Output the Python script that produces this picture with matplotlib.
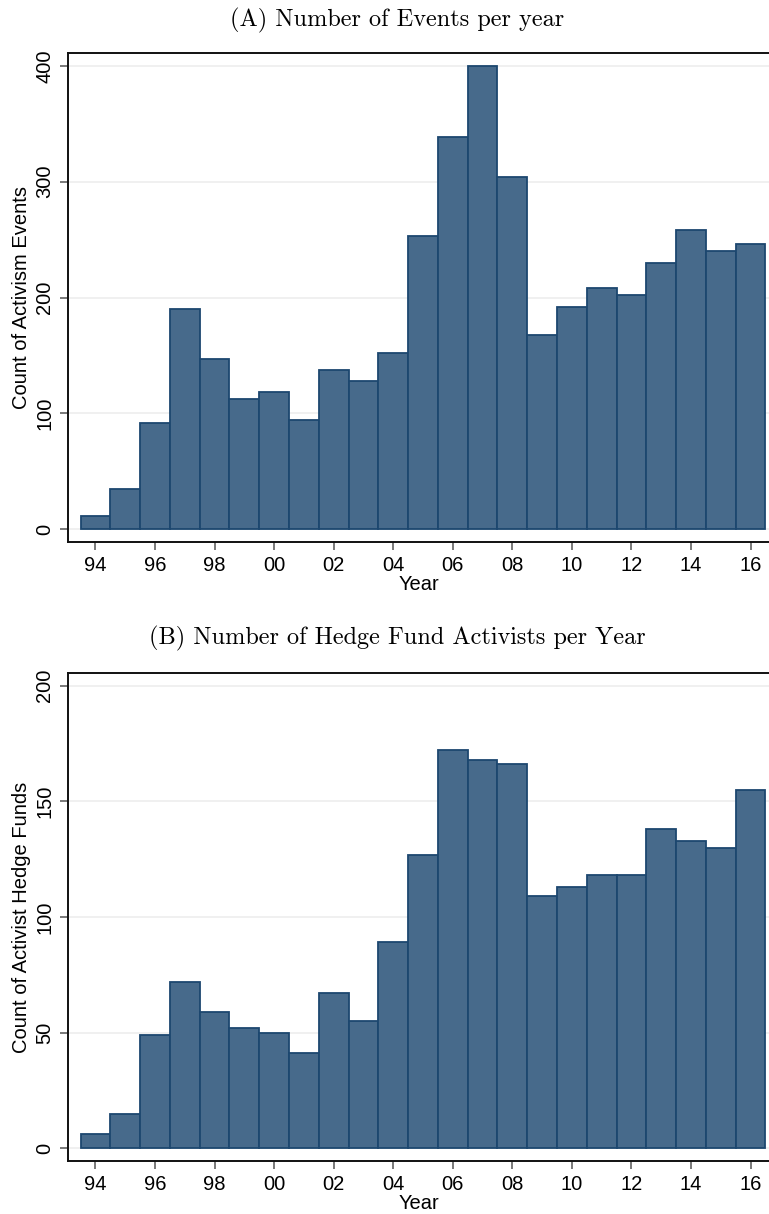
import matplotlib
matplotlib.use("Agg")
import matplotlib.pyplot as plt
import numpy as np

years = np.arange(1994, 2017)
events = [11, 35, 92, 190, 147, 112, 118, 94, 137, 128, 152, 253,
          339, 400, 304, 168, 192, 208, 202, 230, 258, 240, 246]
funds = [6, 15, 49, 72, 59, 52, 50, 41, 67, 55, 89, 127,
         172, 168, 166, 109, 113, 118, 118, 138, 133, 130, 155]

panels = [
    ("(A) Number of Events per year", "Count of Activism Events", events,
     [0, 100, 200, 300, 400], (-11.2, 411.2)),
    ("(B) Number of Hedge Fund Activists per Year", "Count of Activist Hedge Funds", funds,
     [0, 50, 100, 150, 200], (-5.5, 205.5)),
]

FILL = "#476a8b"
EDGE = "#1c476f"

plt.rcParams["font.family"] = ["Liberation Sans", "DejaVu Sans"]

W, H = 769, 1214
fig = plt.figure(figsize=(W / 100, H / 100), dpi=100)

# axes boxes in pixels: left, top, right, bottom
boxes = [(68, 53, 769, 542), (68, 673, 769, 1161)]
title_y = [20, 638]

for (title, ylabel, vals, yticks, ylim), box, ty in zip(panels, boxes, title_y):
    l, t, r, b = box
    ax = fig.add_axes([l / W, 1 - b / H, (r - l) / W, (b - t) / H])
    ax.bar(years, vals, width=1.0, color=FILL, edgecolor=EDGE, linewidth=1.3, zorder=3)
    ax.set_xlim(1993.08, 2016.62)
    ax.set_ylim(*ylim)
    ax.set_yticks(yticks)
    ax.set_yticklabels([str(v) for v in yticks], rotation=90, va="center")
    xt = years[::2]
    ax.set_xticks(xt)
    ax.set_xticklabels([f"{y % 100:02d}" for y in xt])
    ax.grid(axis="y", color="#eeeeee", linewidth=1.2, zorder=0)
    ax.tick_params(axis="both", direction="out", length=6, width=1.1, color="#555555",
                   labelsize=14.5, pad=4)
    for side in ("left", "bottom", "top"):
        ax.spines[side].set_linewidth(1.4)
        ax.spines[side].set_color("#111111")
    ax.spines["right"].set_visible(False)
    ax.set_ylabel(ylabel, fontsize=14.5, labelpad=3)
    ax.set_xlabel("Year", fontsize=14.5, labelpad=0)
    fig.text(397 / W, 1 - ty / H, title, ha="center", va="center",
             family="cmr10", fontsize=17.5)

fig.savefig("out.png", dpi=100)
